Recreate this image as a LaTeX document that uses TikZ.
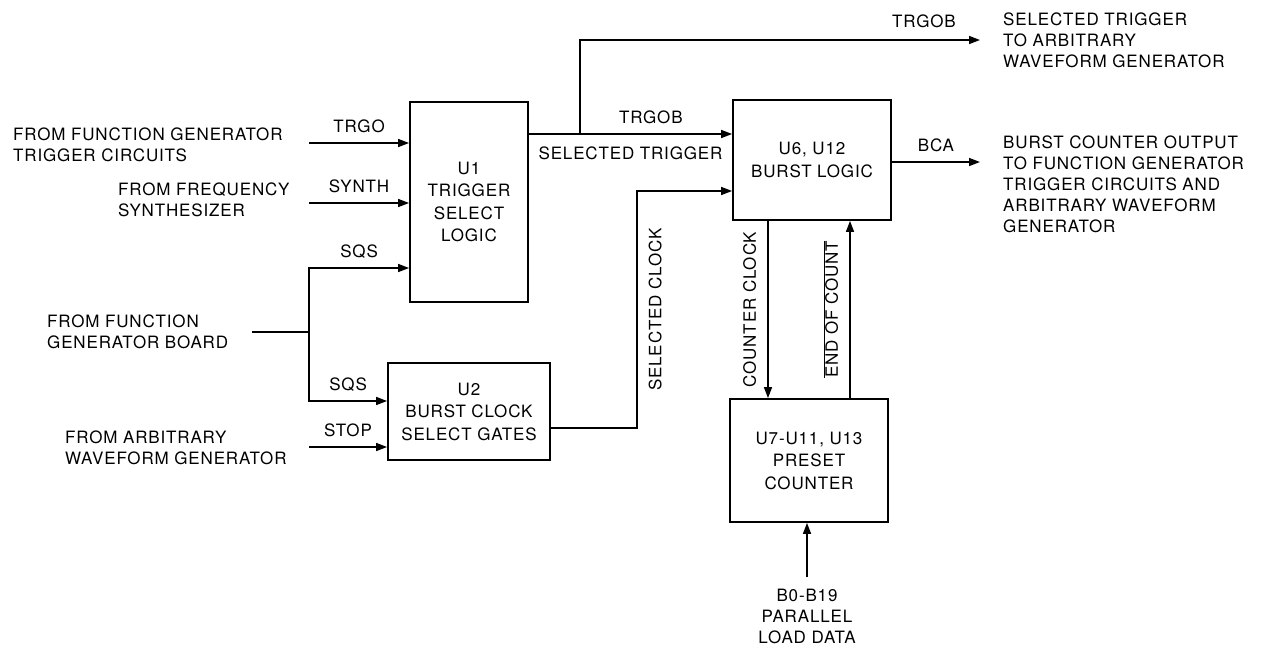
\documentclass[tikz,border=0pt]{standalone}
\usepackage{fontspec}
\setmainfont{TeX Gyre Heros}[LetterSpace=5]
\usetikzlibrary{arrows.meta, positioning}

\newcommand{\dgfont}{\fontsize{17}{21}\selectfont}
\newcommand{\boxfont}{\fontsize{17}{22.5}\selectfont}

\begin{document}
\begin{tikzpicture}[x=1pt, y=-1pt, >={Triangle[length=11pt, width=8pt]},
    block/.style={draw, line width=1.8pt, inner sep=0pt, align=center, font=\boxfont},
    wire/.style={line width=1.5pt},
    note/.style={align=left, inner sep=0pt, font=\dgfont},
    tag/.style={inner sep=9pt, font=\dgfont}
    ]
    \useasboundingbox (0,0) rectangle (1265,646);

    % blocks
    \node [block, minimum width=118, minimum height=200](u1) at (469,202) {U1\\TRIGGER\\SELECT\\LOGIC};
    \node [block, minimum width=162, minimum height=97](u2) at (469,411.5) {U2\\BURST CLOCK\\SELECT GATES};
    \node [block, minimum width=158, minimum height=120](u6) at (812,160) {U6, U12\\BURST LOGIC};
    \node [block, minimum width=158, minimum height=123](u7) at (809,460.5) {U7-U11, U13\\PRESET\\COUNTER};

    % sources and destinations
    \node [note, anchor=west](fgtrig) at (13,145) {FROM FUNCTION GENERATOR\\TRIGGER CIRCUITS};
    \node [note, anchor=west](synth) at (118,200) {FROM FREQUENCY\\SYNTHESIZER};
    \node [note, anchor=west](fgboard) at (47,332) {FROM FUNCTION\\GENERATOR BOARD};
    \node [note, anchor=west](awg) at (65,448) {FROM ARBITRARY\\WAVEFORM GENERATOR};
    \node [note, anchor=west](seltrig) at (1003,40.5) {SELECTED TRIGGER\\TO ARBITRARY\\WAVEFORM GENERATOR};
    \node [note, anchor=west](bcaout) at (1003,184.5) {BURST COUNTER OUTPUT\\TO FUNCTION GENERATOR\\TRIGGER CIRCUITS AND\\ARBITRARY WAVEFORM\\GENERATOR};
    \node [note, align=center](ldata) at (807,616) {B0-B19\\PARALLEL\\LOAD DATA};

    \coordinate (trgo) at (309,143);
    \coordinate (synthin) at (309,203);
    \coordinate (board) at (252,332);
    \coordinate (jn) at (309,332);
    \coordinate (sqs1) at (309,268);
    \coordinate (sqs2) at (309,401);
    \coordinate (stop) at (309,447);
    \coordinate (split) at (580,134);
    \coordinate (trgobout) at (980,40);
    \coordinate (bcaend) at (980,162);
    \coordinate (clk) at (637,428);
    \coordinate (clkin) at (637,191);
    \coordinate (cclk) at (768,0);
    \coordinate (eoc) at (850,0);
    \coordinate (ldin) at (807,577);

    % inputs
    \draw[wire, ->] (trgo) -- (trgo -| u1.west) node[midway, above, tag] {TRGO};
    \draw[wire, ->] (synthin) -- (synthin -| u1.west) node[midway, above, tag] {SYNTH};
    \draw[wire] (board) -- (jn);
    \draw[wire, ->] (jn) -- (sqs1) -- (sqs1 -| u1.west) node[midway, above, tag] {SQS};
    \draw[wire, ->] (jn) -- (sqs2) -- (sqs2 -| u2.west) node[midway, above, tag] {SQS};
    \draw[wire, ->] (stop) -- (stop -| u2.west) node[midway, above, tag] {STOP};

    % trigger and clock paths
    \draw[wire, ->] (split -| u1.east) -- (split -| u6.west) node[pos=0.6, above, tag] {TRGOB} node[midway, below, tag, inner sep=12pt] {SELECTED TRIGGER};
    \draw[wire, ->] (split) |- (trgobout) node[pos=0.93, above, tag, inner sep=11pt] {TRGOB};
    \draw[wire, ->] (u2.east |- clk) -- (clk) -- (clkin) node[midway, rotate=90, anchor=north, tag, inner sep=11pt] {SELECTED CLOCK} -- (clkin -| u6.west);
    \draw[wire, ->] (u6.east |- bcaend) -- (bcaend) node[midway, above, tag] {BCA};

    % counter loop
    \draw[wire, ->] (u6.south -| cclk) -- (u7.north -| cclk) node[midway, rotate=90, anchor=south, tag, inner sep=11pt] {COUNTER CLOCK};
    \draw[wire, ->] (u7.north -| eoc) -- (u6.south -| eoc) node[midway, rotate=90, anchor=south, tag, inner sep=11pt] {$\overline{\mbox{END OF COUNT}}$};
    \draw[wire, ->] (ldin) -- (ldin |- u7.south);
\end{tikzpicture}
\end{document}
